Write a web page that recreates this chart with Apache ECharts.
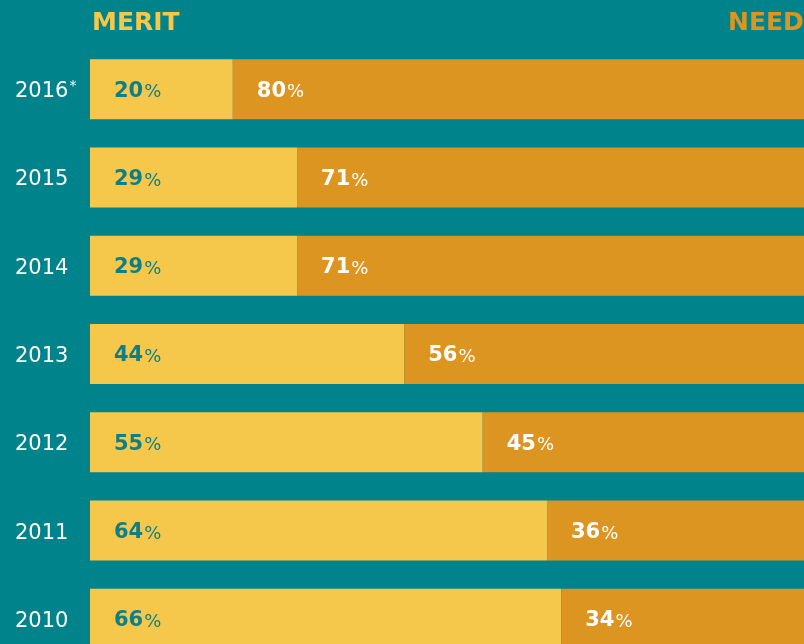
<!DOCTYPE html>
<html><head><meta charset="utf-8">
<script src="https://cdn.jsdelivr.net/npm/echarts@6/dist/echarts.min.js"></script>
<style>html,body{margin:0;padding:0;background:#00838A;}#c{width:804px;height:644px;}</style>
</head><body><div id="c"></div>
<script>
const years = ['2016*', '2015', '2014', '2013', '2012', '2011', '2010'];
const merit = [20, 29, 29, 44, 55, 64, 66];
const need = [80, 71, 71, 56, 45, 36, 34];
const headers = ['MERIT', 'NEED'];

const FONT = '"DejaVu Sans", "Open Sans", sans-serif';
const chart = echarts.init(document.getElementById('c'));
function pctRich(color) {
  return {
    n: { fontFamily: FONT, fontWeight: 700, fontSize: 21, color: color, padding: [4, 0, 0, 0] },
    p: { fontFamily: FONT, fontWeight: 400, fontSize: 18, color: color, padding: [7, 0, 0, 1] }
  };
}
chart.setOption({
  backgroundColor: '#00838A',
  animation: false,
  grid: { left: 90, right: 0, top: 45, height: 618, outerBoundsMode: 'none' },
  xAxis: { type: 'value', min: 0, max: 100, show: false },
  yAxis: {
    type: 'category', inverse: true, data: years,
    axisLine: { show: false }, axisTick: { show: false },
    axisLabel: {
      align: 'left', margin: 75, color: '#ffffff',
      fontFamily: FONT, fontSize: 21,
      formatter: function (v) {
        if (v.indexOf('*') >= 0) return '{y|' + v.replace('*', '') + '}{s|*}';
        return '{y|' + v + '}';
      },
      rich: {
        y: { fontFamily: FONT, fontSize: 21, color: '#ffffff', padding: [5, 0, 0, 0] },
        s: { fontFamily: FONT, fontSize: 14, color: '#ffffff', verticalAlign: 'top', padding: [3, 0, 0, 1] }
      }
    }
  },
  graphic: [
    { type: 'text', left: 92, top: 11, style: { text: headers[0], fill: '#F5C84C', font: '700 25px ' + FONT } },
    { type: 'text', left: 728, top: 11, style: { text: headers[1], fill: '#DC9520', font: '700 25px ' + FONT } }
  ],
  series: [
    {
      name: headers[0], type: 'bar', stack: 'all', data: merit, barWidth: 60,
      itemStyle: { color: '#F5C84C' },
      label: {
        show: true, position: 'insideLeft', distance: 24,
        formatter: function (p) { return '{n|' + p.value + '}{p|%}'; },
        rich: pctRich('#0E7F86')
      }
    },
    {
      name: headers[1], type: 'bar', stack: 'all', data: need, barWidth: 60,
      itemStyle: { color: '#DC9520' },
      label: {
        show: true, position: 'insideLeft', distance: 24,
        formatter: function (p) { return '{n|' + p.value + '}{p|%}'; },
        rich: pctRich('#ffffff')
      }
    }
  ]
});
</script></body></html>
